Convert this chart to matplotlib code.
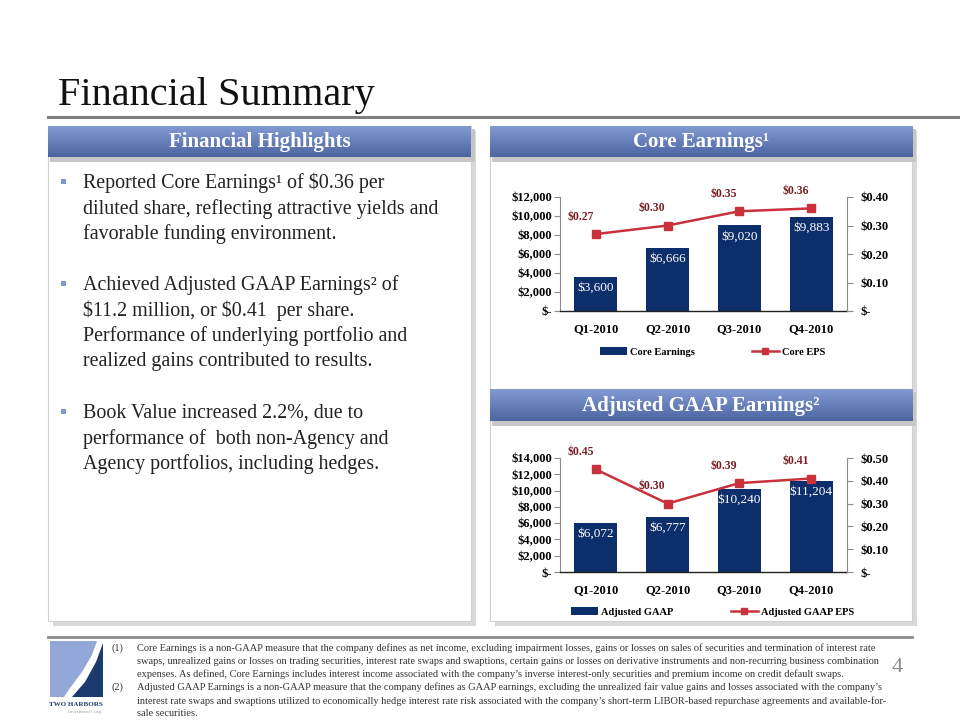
import matplotlib
matplotlib.use("Agg")
import matplotlib.pyplot as plt
import numpy as np
from matplotlib.patches import Rectangle, Polygon
from matplotlib.lines import Line2D
from matplotlib.colors import LinearSegmentedColormap
from matplotlib.ticker import FuncFormatter

plt.rcParams['font.family'] = ['Liberation Serif', 'DejaVu Serif']

# ---------------- data ----------------
quarters = ["Q1-2010", "Q2-2010", "Q3-2010", "Q4-2010"]
core_earnings = [3600, 6666, 9020, 9883]
core_eps = [0.27, 0.30, 0.35, 0.36]
adj_gaap = [6072, 6777, 10240, 11204]
adj_eps = [0.45, 0.30, 0.39, 0.41]

core_left_ticks = [0, 2000, 4000, 6000, 8000, 10000, 12000]
core_right_ticks = [0.0, 0.10, 0.20, 0.30, 0.40]
adj_left_ticks = [0, 2000, 4000, 6000, 8000, 10000, 12000, 14000]
adj_right_ticks = [0.0, 0.10, 0.20, 0.30, 0.40, 0.50]

title = "Financial Summary"
highlights_title = "Financial Highlights"
core_title = "Core Earnings\u00b9"
adj_title = "Adjusted GAAP Earnings\u00b2"
core_legend = ["Core Earnings", "Core EPS"]
adj_legend = ["Adjusted GAAP", "Adjusted GAAP EPS"]

bullets = [
    ["Reported Core Earnings\u00b9 of $0.36 per",
     "diluted share, reflecting attractive yields and",
     "favorable funding environment."],
    ["Achieved Adjusted GAAP Earnings\u00b2 of",
     "$11.2 million, or $0.41  per share.",
     "Performance of underlying portfolio and",
     "realized gains contributed to results."],
    ["Book Value increased 2.2%, due to",
     "performance of  both non-Agency and",
     "Agency portfolios, including hedges."],
]

footnotes = [
    ("(1)", ["Core Earnings is a non-GAAP measure that the company defines as net income, excluding impairment losses, gains or losses on sales of securities and termination of interest rate",
             "swaps, unrealized gains or losses on trading securities, interest rate swaps and swaptions, certain gains or losses on derivative instruments and non-recurring business combination",
             "expenses. As defined, Core Earnings includes interest income associated with the company\u2019s inverse interest-only securities and premium income on credit default swaps."]),
    ("(2)", ["Adjusted GAAP Earnings is a non-GAAP measure that the company defines as GAAP earnings, excluding the unrealized fair value gains and losses associated with the company\u2019s",
             "interest rate swaps and swaptions utilized to economically hedge interest rate risk associated with the company\u2019s short-term LIBOR-based repurchase agreements and available-for-",
             "sale securities."]),
]
page_number = "4"

# ---------------- styles ----------------
BAR = "#0c2e6b"
RED = "#c9323d"
LBL_RED = "#7a1e22"
W, H = 960, 720

fig = plt.figure(figsize=(W / 100, H / 100), dpi=100)
fig.patch.set_facecolor("white")


def fx(x):
    return x / W


def fy(y):
    return 1 - y / H


def rect(x, y, w, h, **kw):
    fig.add_artist(Rectangle((fx(x), fy(y + h)), w / W, h / H,
                             transform=fig.transFigure, **kw))


def text(x, y, s, **kw):
    kw.setdefault("parse_math", False)
    return fig.text(fx(x), fy(y), s, **kw)


def axrect(x0, y0, x1, y1):
    return [fx(x0), fy(y1), (x1 - x0) / W, (y1 - y0) / H]


grad_cmap = LinearSegmentedColormap.from_list("hdr", ["#839bd3", "#4c64a0"])


def header(x0, y0, x1, y1, s):
    rect(x0 + 2, y0 + 3, x1 - x0 + 2, y1 - y0 + 2, facecolor="#c6c6c6",
         edgecolor="none", zorder=1)
    hax = fig.add_axes(axrect(x0, y0, x1, y1), zorder=2)
    hax.imshow(np.linspace(0, 1, 64).reshape(-1, 1), aspect="auto",
               cmap=grad_cmap, extent=[0, 1, 0, 1])
    hax.axis("off")
    text((x0 + x1) / 2, (y0 + y1) / 2 + 1, s, color="white", fontsize=15,
         fontweight="bold", ha="center", va="center", zorder=3)


# title
text(58, 105, title, fontsize=29, va="baseline", ha="left", color="#111111")
fig.add_artist(Line2D([fx(48), fx(960)], [fy(117), fy(117)], color="#7f7f7f",
                      lw=2.2, transform=fig.transFigure))

# panels (shadow + body)
for (x0, y0, x1, y1) in [(48, 126, 471, 621), (490, 126, 912, 621)]:
    rect(x0 + 5, y0 + 5, x1 - x0, y1 - y0, facecolor="#d9d9d9",
         edgecolor="none", zorder=-2)
    rect(x0, y0, x1 - x0, y1 - y0, facecolor="white", edgecolor="#d0d0d0",
         lw=0.8, zorder=-1)

header(48, 126, 471, 157, highlights_title)
header(490, 126, 912, 157, core_title)
header(490, 389, 912, 421, adj_title)

# bullets
bullet_tops = [183, 285, 413]
for top, lines in zip(bullet_tops, bullets):
    rect(61, top - 4, 5, 5, facecolor="#8197cb", edgecolor="none", zorder=2)
    for k, ln in enumerate(lines):
        text(83, top + k * 25.6, ln, fontsize=14.4, va="center", ha="left",
             color="#222222")


def money_k(v, pos=None):
    return "$-" if v == 0 else f"${v:,.0f}"


def money_eps(v, pos=None):
    return "$-" if v == 0 else f"${v:.2f}"


def chart(box, values, eps, lticks, rticks, legend_labels, legend_y):
    x0, y0, x1, y1 = box
    ax = fig.add_axes(axrect(x0, y0, x1, y1), zorder=4)
    ax.patch.set_visible(False)
    xs = np.arange(len(quarters))
    ax.bar(xs, values, width=0.6, color=BAR, zorder=2)
    ax.set_xlim(-0.5, len(quarters) - 0.5)
    ax.set_ylim(lticks[0], lticks[-1])
    ax.set_yticks(lticks)
    ax.yaxis.set_major_formatter(FuncFormatter(money_k))
    ax.set_xticks(xs)
    ax.set_xticklabels(quarters)
    for sp in ["top", "right"]:
        ax.spines[sp].set_visible(False)
    ax.spines["left"].set_color("#8c8c8c")
    ax.spines["bottom"].set_color("#222222")
    ax.spines["bottom"].set_linewidth(1.0)
    ax.tick_params(axis="y", direction="out", length=4, width=0.8,
                   color="#8c8c8c", pad=1.5, labelsize=9)
    ax.tick_params(axis="x", length=0, pad=9, labelsize=9)
    for lab in ax.get_yticklabels() + ax.get_xticklabels():
        lab.set_fontweight("bold")
    for i, v in enumerate(values):
        ax.annotate(f"${v:,}", (i, v), xytext=(0, -8), textcoords="offset points",
                    ha="center", va="center", color="white", fontsize=9.5,
                    zorder=5)

    ax2 = ax.twinx()
    ax2.set_zorder(5)
    ax2.patch.set_visible(False)
    ax2.set_ylim(rticks[0], rticks[-1])
    ax2.set_yticks(rticks)
    ax2.yaxis.set_major_formatter(FuncFormatter(money_eps))
    for sp in ["top", "left", "bottom"]:
        ax2.spines[sp].set_visible(False)
    ax2.spines["right"].set_color("#8c8c8c")
    ax2.tick_params(axis="y", direction="out", length=4, width=0.8,
                    color="#8c8c8c", pad=6, labelsize=9)
    for lab in ax2.get_yticklabels():
        lab.set_fontweight("bold")
    ax2.plot(xs, eps, color=RED, lw=1.8, marker="s", markersize=6,
             markerfacecolor=RED, markeredgecolor=RED, zorder=3)
    for i, e in enumerate(eps):
        ax2.annotate(f"${e:.2f}", (i, e), xytext=(-11, 12.5),
                     textcoords="offset points", ha="center", va="center",
                     color=LBL_RED, fontsize=8.5, fontweight="bold")

    handles = [Rectangle((0, 0), 1, 1, facecolor=BAR, edgecolor="none"),
               Line2D([], [], color=RED, lw=1.8, marker="s", markersize=5)]
    fig.legend(handles, legend_labels, loc="center",
               bbox_to_anchor=(fx((x0 + x1) / 2 + 9), fy(legend_y)),
               ncol=2, frameon=False, columnspacing=5.5, handlelength=2.6,
               handletextpad=0.3, prop={"size": 7.5, "weight": "bold"})
    return ax


chart((560, 197, 847, 311), core_earnings, core_eps, core_left_ticks,
      core_right_ticks, core_legend, 352)
chart((560, 458, 847, 572), adj_gaap, adj_eps, adj_left_ticks,
      adj_right_ticks, adj_legend, 612)

# footer line
fig.add_artist(Line2D([fx(48), fx(912)], [fy(637), fy(637)], color="#8a8a8a",
                      lw=2.0, transform=fig.transFigure))

# logo
fig.add_artist(Polygon([(fx(50), fy(641)), (fx(97), fy(641)), (fx(92), fy(655)),
                        (fx(82), fy(672)), (fx(70), fy(688)), (fx(64), fy(697)),
                        (fx(50), fy(697))], closed=True, facecolor="#93a8d8",
                       edgecolor="none", transform=fig.transFigure))
fig.add_artist(Polygon([(fx(103), fy(643)), (fx(103), fy(697)), (fx(72), fy(697)),
                        (fx(85), fy(682)), (fx(96), fy(662))], closed=True,
                       facecolor="#1c3a6e", edgecolor="none",
                       transform=fig.transFigure))
text(76, 704, "TWO HARBORS", fontsize=5, color="#1c3a6e", ha="center",
     va="center", fontweight="bold")
text(85, 712, "Investment Corp.", fontsize=3.5, color="#999999", ha="center",
     va="center")

# footnotes
fy0 = 648
k = 0
for num, lines in footnotes:
    text(112, fy0 + k * 13.2, num, fontsize=7.5, va="center", ha="left",
         color="#333333")
    for ln in lines:
        text(137, fy0 + k * 13.2, ln, fontsize=7.5, va="center", ha="left",
             color="#333333")
        k += 1

text(897, 668, page_number, fontsize=16, color="#8a8a8a", ha="center",
     va="center")

fig.savefig("out.png", dpi=100)
